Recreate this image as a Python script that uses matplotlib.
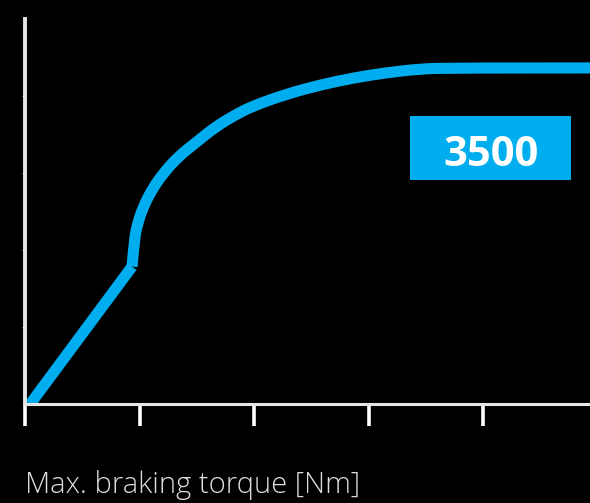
import matplotlib
matplotlib.use("Agg")
import matplotlib.pyplot as plt
from matplotlib.patches import Rectangle, PathPatch
from matplotlib.path import Path

# curve (x: torque steps, y: arbitrary units)
# straight rise up to the kink, then the rounded part up to the plateau
ramp_x = [0.04, 0.932]
ramp_y = [0.00, 1.790]
curve_x = [0.932, 0.951, 0.980, 1.031, 1.104, 1.205, 1.336, 1.482, 1.663, 1.840,
           1.989, 2.283, 2.574, 2.862, 3.156, 3.447, 3.709, 4.93]
curve_y = [1.790, 2.136, 2.353, 2.569, 2.786, 3.003, 3.218, 3.392, 3.608, 3.766,
           3.877, 4.032, 4.149, 4.240, 4.309, 4.357, 4.370, 4.370]
x_ticks = [0, 1, 2, 3, 4]
y_ticks = [1, 2, 3, 4]
badge = "3500"
x_label = "Max. braking torque [Nm]"

blue = "#00adef"
axis_col = "#e6e6e6"

fig = plt.figure(figsize=(5.9, 5.03), dpi=100, facecolor="black")
ax = fig.add_axes([0.0429, 0.196, 0.9571, 0.7654], facecolor="black")

ax.plot(ramp_x, ramp_y, color=blue, lw=8, solid_capstyle="butt")

# smooth the rounded part with quadratic segments through the read points
pts = list(zip(curve_x, curve_y))
verts = [pts[0]]
codes = [Path.MOVETO]
for i in range(1, len(pts) - 1):
    nxt = pts[i + 1] if i == len(pts) - 2 else ((pts[i][0] + pts[i + 1][0]) / 2,
                                                 (pts[i][1] + pts[i + 1][1]) / 2)
    verts += [pts[i], nxt]
    codes += [Path.CURVE3, Path.CURVE3]
ax.add_patch(PathPatch(Path(verts, codes), facecolor="none", edgecolor=blue,
                       lw=8, joinstyle="round", capstyle="butt"))

ax.set_xlim(0, 4.93)
ax.set_ylim(0, 5)

for s in ["top", "right"]:
    ax.spines[s].set_visible(False)
ax.spines["left"].set_color(axis_col)
ax.spines["left"].set_linewidth(2.8)
ax.spines["bottom"].set_color(axis_col)
ax.spines["bottom"].set_linewidth(2.2)

ax.set_xticks(x_ticks)
ax.set_yticks(y_ticks)
ax.set_xticklabels([])
ax.set_yticklabels([])
ax.tick_params(axis="x", direction="out", length=16, width=2.6, color="white")
ax.tick_params(axis="y", direction="out", length=2, width=0.8, color="#999999")

# value badge
ax.add_patch(Rectangle((0.681, 0.583), 0.285, 0.166, transform=ax.transAxes,
                       facecolor=blue, edgecolor="none", zorder=3))
ax.text(0.824, 0.618, badge, transform=ax.transAxes, ha="center", va="baseline",
        color="white", fontsize=30, fontweight="bold", family="Open Sans", zorder=4)

fig.text(25 / 590, 10 / 503, x_label, ha="left", va="baseline",
         color="#dcdcdc", fontsize=21, fontweight="light", family="Open Sans")

fig.savefig("out.png", dpi=100, facecolor="black")
